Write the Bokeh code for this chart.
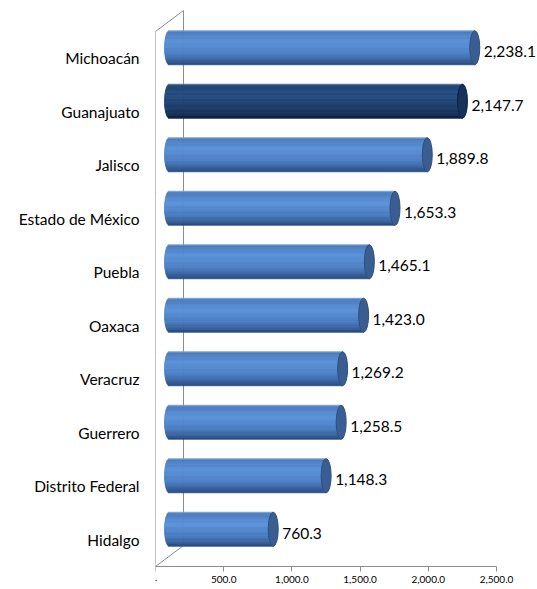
import math
from bokeh.plotting import figure
from bokeh.models import ColumnDataSource, Range1d, LinearAxis, FixedTicker, LabelSet
from bokeh.core.properties import value
from bokeh.embed import file_html
from bokeh.resources import INLINE

# ---------------- data ----------------
states = ["Michoacán", "Guanajuato", "Jalisco", "Estado de México", "Puebla",
          "Oaxaca", "Veracruz", "Guerrero", "Distrito Federal", "Hidalgo"]
values = [2238.1, 2147.7, 1889.8, 1653.3, 1465.1, 1423.0, 1269.2, 1258.5, 1148.3, 760.3]
highlighted = ["Guanajuato"]
x_ticks = [0, 500, 1000, 1500, 2000, 2500]
x_tick_labels = ["-", "500.0", "1,000.0", "1,500.0", "2,000.0", "2,500.0"]

# ---------------- layout / style constants ----------------
W, H = 537, 589
BORDER_L = 155
PX_PER_UNIT = 341 / 2500.0
BAND_PX = 53.5
FLOOR_FROM_BOTTOM = 23
DEPTH_X, DEPTH_Y = 28.0, 21.0
BAR_FRAC = 0.636
CAP_PX = 5.0
N_STRIPS = 28
AXIS_COLOR = "#8c8c8c"
FONT = "Lato"
LABEL_SIZE = "15.5px"

LIGHT_STOPS = [(0.0, "#9fb6d6"), (0.04, "#4a7cbe"), (0.35, "#5c92d8"),
               (0.70, "#4a7dc2"), (0.90, "#36609c"), (1.0, "#2a4b7c")]
DARK_STOPS = [(0.0, "#6f86a6"), (0.04, "#214676"), (0.35, "#264c80"),
              (0.70, "#1d3d6c"), (0.90, "#142e57"), (1.0, "#0d1f3e")]
CAP_LIGHT, CAP_LIGHT_LINE = "#3a5e92", "#2f4f7e"
CAP_DARK, CAP_DARK_LINE = "#16315a", "#0e2244"


def hex2rgb(h):
    h = h.lstrip("#")
    return tuple(int(h[i:i + 2], 16) for i in (0, 2, 4))


def grad(stops, t):
    for (t0, c0), (t1, c1) in zip(stops[:-1], stops[1:]):
        if t <= t1:
            f = (t - t0) / (t1 - t0) if t1 > t0 else 0
            a, b = hex2rgb(c0), hex2rgb(c1)
            return "#%02x%02x%02x" % tuple(int(round(a[k] + (b[k] - a[k]) * f)) for k in range(3))
    return stops[-1][1]


n = len(states)
pos = [n - 1 - i + 0.5 for i in range(n)]
frame_w = W - BORDER_L
x_end = frame_w / PX_PER_UNIT
y_start = -FLOOR_FROM_BOTTOM / BAND_PX
y_end = y_start + H / BAND_PX

p = figure(width=W, height=H, x_range=Range1d(0, x_end), y_range=Range1d(y_start, y_end),
           min_border_left=BORDER_L, min_border_right=0, min_border_top=0, min_border_bottom=0,
           x_axis_location=None, y_axis_location=None,
           toolbar_location=None, output_backend="svg")
p.outline_line_color = None
p.xgrid.visible = False
p.ygrid.visible = False
p.background_fill_color = "white"

# planes: middle (bars) and back (wall), shifted in depth
mx, my = 0.5 * DEPTH_X / PX_PER_UNIT, 0.5 * DEPTH_Y / BAND_PX
bx, by = DEPTH_X / PX_PER_UNIT, DEPTH_Y / BAND_PX
p.extra_x_ranges = {"mid": Range1d(-mx, x_end - mx), "back": Range1d(-bx, x_end - bx)}
p.extra_y_ranges = {"mid": Range1d(y_start - my, y_end - my), "back": Range1d(y_start - by, y_end - by)}

# wall lines
p.segment(x0=[0], y0=[0], x1=[0], y1=[n], line_color=AXIS_COLOR, line_width=1,
          x_range_name="back", y_range_name="back")
p.segment(x0=[0, 0], y0=[0, n], x1=[bx, bx], y1=[by, n + by], line_color=AXIS_COLOR, line_width=1)

# cylinders (body as gradient strips)
bar_h = BAR_FRAC
a_units = CAP_PX / PX_PER_UNIT
rows = dict(y=[], left=[], right=[], height=[], color=[])
for i, (s, v) in enumerate(zip(states, values)):
    stops = DARK_STOPS if s in highlighted else LIGHT_STOPS
    for j in range(N_STRIPS):
        tm = (j + 0.5) / N_STRIPS
        rows["y"].append(pos[i] + (0.5 - tm) * bar_h)
        rows["left"].append(-a_units * math.sqrt(max(0.0, 1 - (2 * tm - 1) ** 2)))
        rows["right"].append(v)
        rows["height"].append(bar_h / N_STRIPS)
        rows["color"].append(grad(stops, tm))
p.hbar(y="y", left="left", right="right", height="height", fill_color="color",
       line_color="color", line_width=0.8, source=ColumnDataSource(rows),
       x_range_name="mid", y_range_name="mid")

cap_src = ColumnDataSource(dict(
    x=values, y=pos,
    fill=[CAP_DARK if s in highlighted else CAP_LIGHT for s in states],
    line=[CAP_DARK_LINE if s in highlighted else CAP_LIGHT_LINE for s in states]))
p.ellipse(x="x", y="y", width=2 * a_units, height=bar_h, fill_color="fill", line_color="line",
          line_width=1, source=cap_src, x_range_name="mid", y_range_name="mid")

# value labels
lab_src = ColumnDataSource(dict(x=values, y=pos, text=[f"{v:,.1f}" for v in values]))
p.add_layout(LabelSet(x="x", y="y", text="text", source=lab_src, x_range_name="mid", y_range_name="mid",
                      x_offset=CAP_PX + 4, y_offset=-4, text_baseline="middle", text_align="left",
                      text_font=value(FONT), text_font_size=value(LABEL_SIZE), text_color="black"))

# axes
xaxis = LinearAxis(ticker=FixedTicker(ticks=x_ticks),
                   major_label_overrides={t: l for t, l in zip(x_ticks, x_tick_labels)},
                   bounds=(x_ticks[0], x_ticks[-1]), fixed_location=0,
                   major_tick_out=5, major_tick_in=0, minor_tick_line_color=None,
                   axis_line_color=AXIS_COLOR, major_tick_line_color=AXIS_COLOR,
                   major_label_text_font=FONT, major_label_text_font_size="10px",
                   major_label_text_color="black", major_label_standoff=4)
p.add_layout(xaxis, "below")

tick_axis = LinearAxis(ticker=FixedTicker(ticks=list(range(n + 1))), bounds=(0, n), fixed_location=0,
                       major_tick_out=7, major_tick_in=0, minor_tick_line_color=None,
                       axis_line_color=AXIS_COLOR, major_tick_line_color=AXIS_COLOR,
                       major_label_text_font_size="0px", major_label_text_alpha=0, major_label_standoff=0)
p.add_layout(tick_axis, "left")

label_axis = LinearAxis(ticker=FixedTicker(ticks=pos),
                        major_label_overrides={pp: s for pp, s in zip(pos, states)},
                        axis_line_color=None, major_tick_line_color=None, minor_tick_line_color=None,
                        major_tick_out=0, major_tick_in=0, major_label_standoff=16,
                        major_label_text_font=FONT, major_label_text_font_size=LABEL_SIZE,
                        major_label_text_color="black")
p.add_layout(label_axis, "left")

open("out.html", "w").write(file_html(p, INLINE))
